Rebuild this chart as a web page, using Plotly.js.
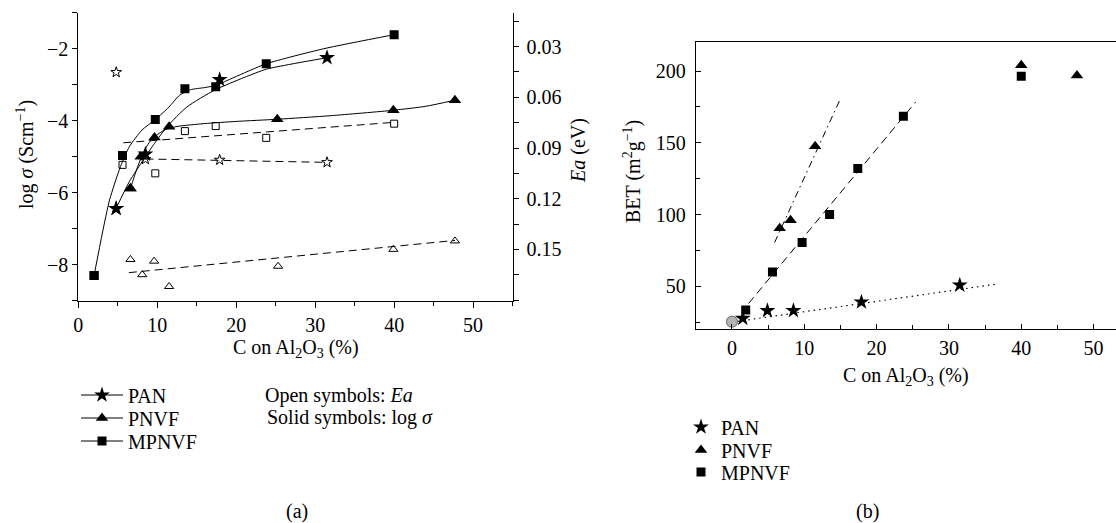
<!DOCTYPE html>
<html>
<head>
<meta charset="utf-8">
<script src="https://cdn.plot.ly/plotly-3.0.1.min.js"></script>
<style>html,body{margin:0;padding:0;background:#fff;}#chart{width:1116px;height:523px;}</style>
</head>
<body>
<div id="chart"></div>
<script>
// ---- Panel (a): log sigma (solid) and Ea (open) vs C on Al2O3 ----
const panX      = [4.8, 8.5, 17.9, 31.5];
const panLogS   = [-6.44, -4.93, -2.86, -2.25];
const panEaX    = [4.8, 8.5, 17.9, 31.5];
const panEa     = [0.0452, 0.0967, 0.0971, 0.0985];
const panEaFitX = [8.5, 31.5];
const panEaFit  = [0.0965, 0.0985];

const pnvfX      = [6.6, 7.9, 9.65, 11.5, 25.2, 39.9, 47.7];
const pnvfLogS   = [-5.88, -5.0, -4.47, -4.17, -3.96, -3.71, -3.43];
const pnvfEaX    = [6.6, 8.1, 9.6, 11.5, 25.3, 39.9, 47.7];
const pnvfEa     = [0.156, 0.165, 0.157, 0.172, 0.160, 0.150, 0.145];
const pnvfEaFitX = [6.4, 47.7];
const pnvfEaFit  = [0.1638, 0.1447];

const mpnvfX      = [2.0, 5.6, 9.75, 13.5, 17.4, 23.8, 40.0];
const mpnvfLogS   = [-8.30, -4.97, -3.97, -3.11, -3.06, -2.42, -1.61];
const mpnvfEaX    = [5.6, 9.75, 13.5, 17.4, 23.8, 40.0];
const mpnvfEa     = [0.100, 0.105, 0.080, 0.077, 0.084, 0.0756];
const mpnvfEaFitX = [5.7, 40.0];
const mpnvfEaFit  = [0.0869, 0.0748];

// fitted log(sigma) curves
const panCurveX   = [4.78, 6.47, 8.29, 9.65, 11.3, 13.75, 17.26, 21.0, 23.8, 27.4, 31.5];
const panCurve    = [-6.44, -5.69, -5.07, -4.63, -4.15, -3.62, -3.15, -2.80, -2.57, -2.41, -2.25];
const pnvfCurveX  = [6.6, 7.4, 8.2, 9.0, 9.8, 11.0, 12.5, 16, 20, 25.2, 32, 39.9, 44, 47.7];
const pnvfCurve   = [-5.88, -5.35, -4.9, -4.6, -4.42, -4.25, -4.16, -4.08, -4.02, -3.96, -3.86, -3.71, -3.6, -3.43];
const mpnvfCurveX = [2.0, 3.05, 3.96, 5.33, 6.47, 8.06, 9.75, 11.48, 12.84, 14.2, 16.0, 17.4, 19.7, 23.8, 31.1, 40.0];
const mpnvfCurve  = [-8.30, -7.12, -6.20, -5.28, -4.72, -4.26, -3.97, -3.62, -3.29, -3.14, -3.08, -3.02, -2.80, -2.42, -2.00, -1.61];

const eaTicks = [0.03, 0.06, 0.09, 0.12, 0.15];

// ---- Panel (b): BET vs C on Al2O3 ----
const betPanX   = [1.5, 4.9, 8.5, 17.9, 31.5];
const betPan    = [27.6, 33, 33, 39, 50.8];
const betPnvfX  = [6.6, 8.1, 11.5, 40.0, 47.7];
const betPnvf   = [90.5, 96, 147.6, 204, 196.8];
const betMpnvfX = [1.9, 5.6, 9.7, 13.5, 17.4, 23.7, 40.0];
const betMpnvf  = [33.4, 59.9, 80.5, 100, 132, 168.4, 196.3];
const aluminaX  = [0];
const aluminaBet= [25.3];
const betPanFitX   = [0, 36.6];
const betPanFit    = [25, 51.5];
const betPnvfFitX  = [5.9, 14.9];
const betPnvfFit   = [80.5, 179.6];
const betMpnvfFitX = [2.3, 25.4];
const betMpnvfFit  = [38, 178.4];

const FONT = 'Liberation Serif, DejaVu Serif, serif';
const K = '#000';
const W = 1116, H = 523;
const px = v => v / W, py = v => 1 - v / H;
// marker colours for a curve trace: only its first point (a data point) is shown
const firstOnly = n => Array.from({length:n}, (_, i) => i === 0 ? K : 'rgba(0,0,0,0)');

const traces = [];
// fitted curves (legend entries of panel a)
[[panCurveX, panCurve, 'PAN', 'star', 12, 'legend'],
 [pnvfCurveX, pnvfCurve, 'PNVF', 'triangle-up', 11, 'legend3'],
 [mpnvfCurveX, mpnvfCurve, 'MPNVF', 'square', 9, 'legend4']].forEach(([cx, cy, nm, sym, sz, lg]) => {
  traces.push({x: cx, y: cy, xaxis:'x', yaxis:'y', name: nm, mode:'lines+markers', legend: lg,
    line:{color:K, width:1, shape:'spline', smoothing:0.6},
    marker:{symbol: sym, size: sz, color: firstOnly(cx.length), line:{width:0}}});
});
// solid symbols: log sigma
traces.push({x: panX, y: panLogS, xaxis:'x', yaxis:'y', mode:'markers', showlegend:false,
  marker:{symbol:'star', size:12, color:K}});
traces.push({x: pnvfX, y: pnvfLogS, xaxis:'x', yaxis:'y', mode:'markers', showlegend:false,
  marker:{symbol:'triangle-up', size:11, color:K}});
traces.push({x: mpnvfX, y: mpnvfLogS, xaxis:'x', yaxis:'y', mode:'markers', showlegend:false,
  marker:{symbol:'square', size:9, color:K}});
// Ea fits
const dashA = '8px,5px';
[[panEaFitX, panEaFit],[pnvfEaFitX, pnvfEaFit],[mpnvfEaFitX, mpnvfEaFit]].forEach(([fx, fy]) => {
  traces.push({x: fx, y: fy, xaxis:'x', yaxis:'y2', mode:'lines', showlegend:false,
    line:{color:K, width:1, dash:dashA}});
});
// Ea open symbols
traces.push({x: panEaX, y: panEa, xaxis:'x', yaxis:'y2', mode:'markers', showlegend:false,
  marker:{symbol:'star-open', size:8, color:K, line:{width:1}}});
traces.push({x: pnvfEaX, y: pnvfEa, xaxis:'x', yaxis:'y2', mode:'markers', showlegend:false,
  marker:{symbol:'triangle-up-open', size:8, color:K, line:{width:1}}});
traces.push({x: mpnvfEaX, y: mpnvfEa, xaxis:'x', yaxis:'y2', mode:'markers', showlegend:false,
  marker:{symbol:'square-open', size:7, color:K, line:{width:1}}});

// panel (b) fits
traces.push({x: betPanFitX, y: betPanFit, xaxis:'x2', yaxis:'y3', mode:'lines', showlegend:false,
  line:{color:K, width:1.2, dash:'1.5px,4px'}});
traces.push({x: betPnvfFitX, y: betPnvfFit, xaxis:'x2', yaxis:'y3', mode:'lines', showlegend:false,
  line:{color:K, width:1, dash:'7px,4px,1.5px,4px'}});
traces.push({x: betMpnvfFitX, y: betMpnvfFit, xaxis:'x2', yaxis:'y3', mode:'lines', showlegend:false,
  line:{color:K, width:1, dash:dashA}});
// panel (b) points
traces.push({x: betPanX, y: betPan, xaxis:'x2', yaxis:'y3', name:'PAN', mode:'markers', legend:'legend2',
  marker:{symbol:'star', size:12, color:K}});
traces.push({x: betPnvfX, y: betPnvf, xaxis:'x2', yaxis:'y3', name:'PNVF', mode:'markers', legend:'legend5',
  marker:{symbol:'triangle-up', size:11, color:K}});
traces.push({x: betMpnvfX, y: betMpnvf, xaxis:'x2', yaxis:'y3', name:'MPNVF', mode:'markers', legend:'legend6',
  marker:{symbol:'square', size:9, color:K}});
traces.push({x: aluminaX, y: aluminaBet, xaxis:'x2', yaxis:'y3', mode:'markers', showlegend:false,
  marker:{symbol:'circle', size:11, color:'#b4b4b4', line:{color:'#7a7a7a', width:1.2}}});

const axBase = {showgrid:false, zeroline:false, showline:true, linecolor:K, linewidth:1,
  tickcolor:K, tickwidth:1, tickfont:{family:FONT, size:20, color:K}};

const legendAt = (x, y, iw) => ({x:px(x), y:py(y), xanchor:'left', yanchor:'middle', bgcolor:'rgba(0,0,0,0)',
  borderwidth:0, font:{family:FONT, size:20, color:K}, itemwidth: iw});

const layout = {
  width: W, height: H,
  margin:{l:0, r:0, t:0, b:0},
  paper_bgcolor:'#fff', plot_bgcolor:'rgba(0,0,0,0)',
  font:{family:FONT, size:20, color:K},
  xaxis: Object.assign({}, axBase, {domain:[px(78.3), px(512.6)], range:[0,55], anchor:'y',
    ticks:'outside', ticklen:6, tick0:0, dtick:10, minor:{dtick:5, ticklen:4, ticks:'outside', tickcolor:K}}),
  xaxis3: Object.assign({}, axBase, {overlaying:'x', side:'top', anchor:'y', range:[0,55],
    ticks:'inside', ticklen:5, tick0:0, dtick:5, showticklabels:false}),
  yaxis: Object.assign({}, axBase, {domain:[py(300.7), py(12.7)], range:[-9,-1], anchor:'x',
    ticks:'outside', ticklen:5, tick0:0, dtick:2, minor:{dtick:1, ticklen:5, ticks:'outside', tickcolor:K}}),
  yaxis2: Object.assign({}, axBase, {overlaying:'y', side:'right', anchor:'x', range:[0.1804, 0.0099],
    ticks:'outside', ticklen:5, tickmode:'array', tickvals:eaTicks, tickformat:'.2f', ticklabelstandoff:4,
    minor:{tickmode:'linear', tick0:0, dtick:0.015, ticklen:5, ticks:'outside', tickcolor:K}}),
  xaxis2: Object.assign({}, axBase, {domain:[px(695.8), 1], range:[-5, 53.1], anchor:'y3', mirror:true,
    ticks:'inside', ticklen:5, tick0:0, dtick:10, ticklabelstandoff:1,
    minor:{dtick:5, ticklen:4, ticks:'inside', tickcolor:K}}),
  yaxis3: Object.assign({}, axBase, {domain:[py(329.3), py(42.3)], range:[20,220], anchor:'x2',
    ticks:'inside', ticklen:5, tick0:0, dtick:50, ticklabelstandoff:5,
    minor:{dtick:25, ticklen:4, ticks:'inside', tickcolor:K}}),
  legend:  legendAt(76, 395, 42),
  legend3: legendAt(76, 418, 42),
  legend4: legendAt(76, 441, 42),
  legend2: legendAt(681, 427, 30),
  legend5: legendAt(681, 450, 30),
  legend6: legendAt(681, 472, 30),
  annotations:[
    {text:'log <i>σ</i> (Scm<sup>−1</sup>)', x:px(25), y:py(155), textangle:-90},
    {text:'C on Al<sub>2</sub>O<sub>3</sub> (%)', x:px(296), y:py(348)},
    {text:'<i>Ea</i> (eV)', x:px(578), y:py(150), textangle:-90},
    {text:'BET (m<sup>2</sup>g<sup>−1</sup>)', x:px(633), y:py(172), textangle:-90},
    {text:'C on Al<sub>2</sub>O<sub>3</sub> (%)', x:px(906), y:py(376)},
    {text:'Open symbols: <i>Ea</i>', x:px(263), y:py(395), xanchor:'left'},
    {text:'Solid symbols: log <i>σ</i>', x:px(265), y:py(417), xanchor:'left'},
    {text:'(a)', x:px(297), y:py(511)},
    {text:'(b)', x:px(867), y:py(511)}
  ].map(a => Object.assign({xref:'paper', yref:'paper', showarrow:false, xanchor:'center', yanchor:'middle',
      font:{family:FONT, size:20, color:K}}, a))
};

Plotly.newPlot('chart', traces, layout, {displayModeBar:false, staticPlot:true});
</script>
</body>
</html>
